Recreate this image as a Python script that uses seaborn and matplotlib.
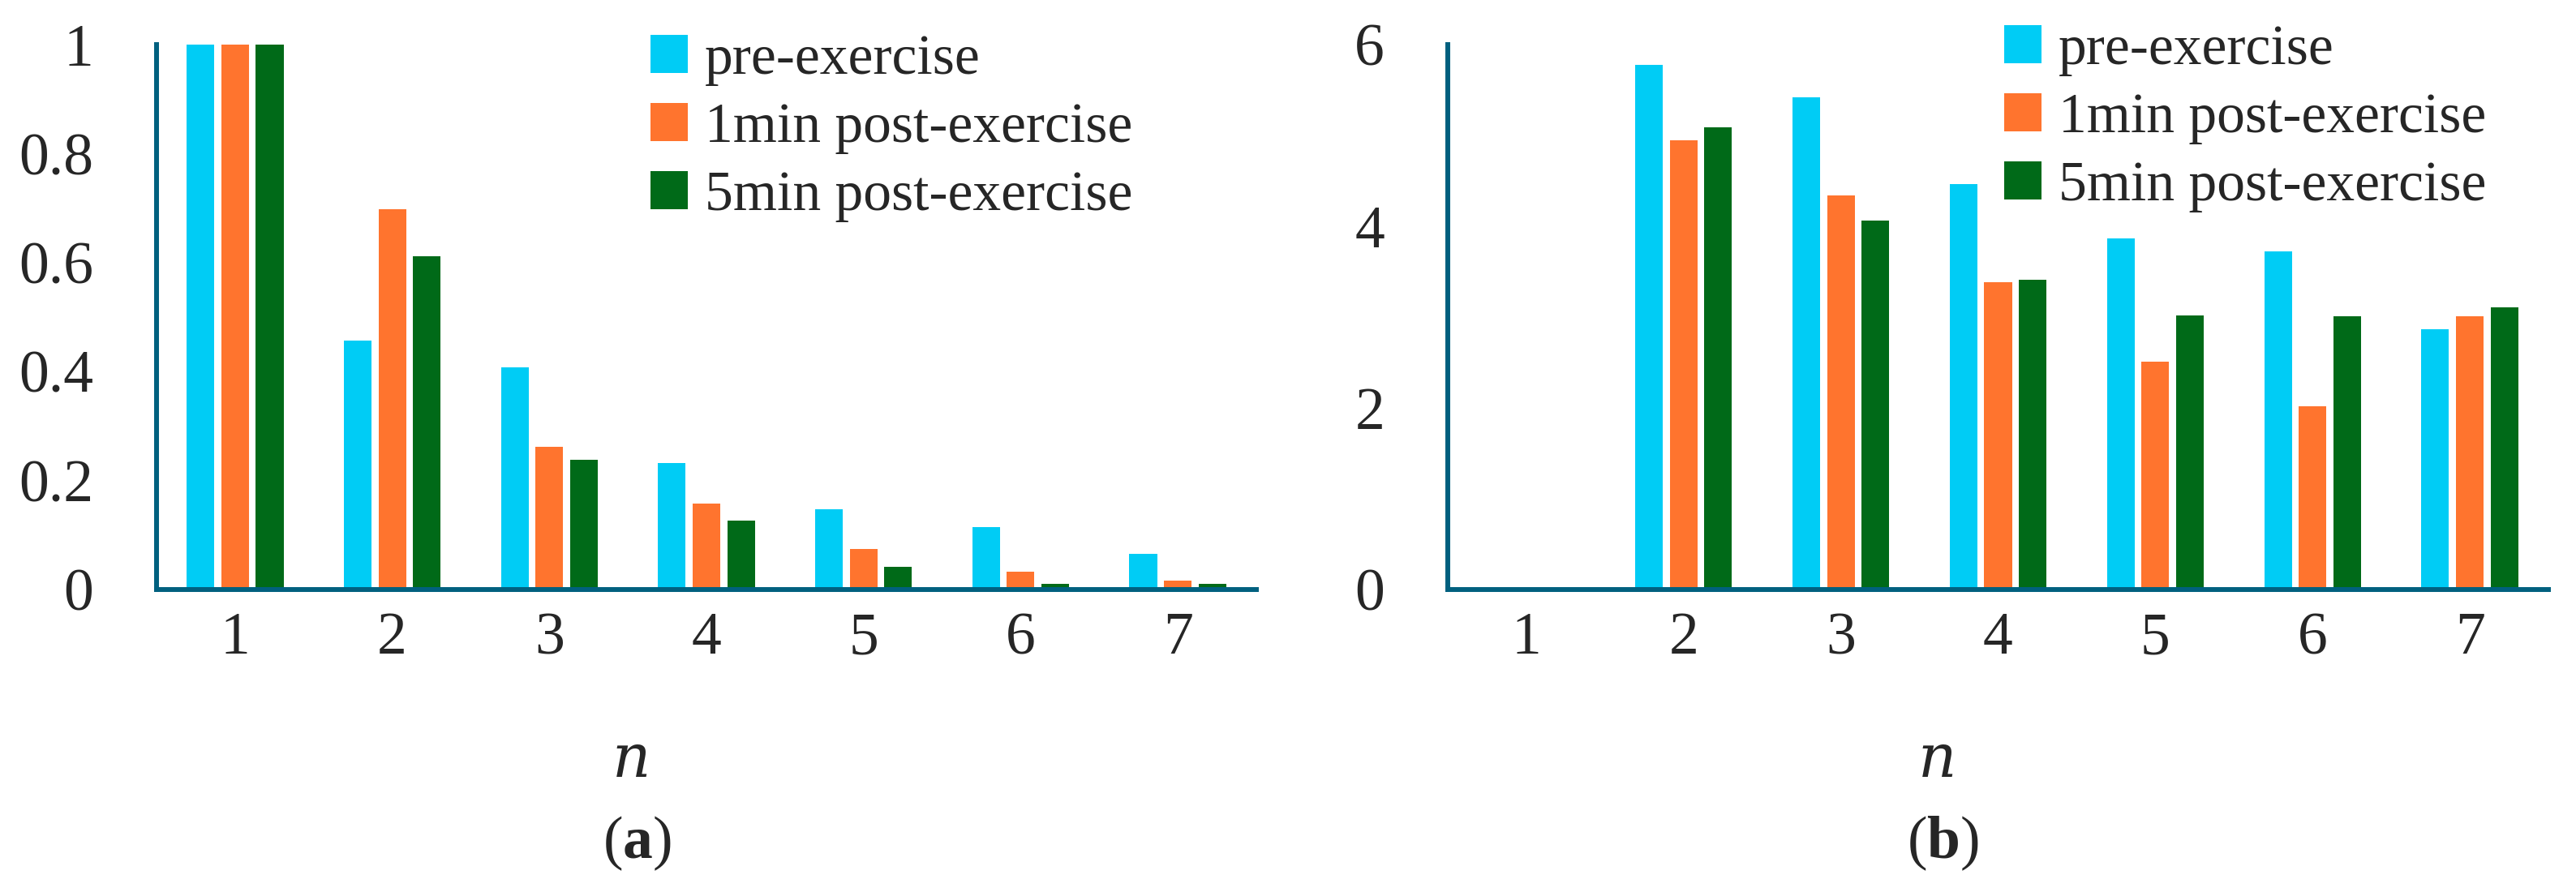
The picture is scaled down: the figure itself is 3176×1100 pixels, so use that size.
import numpy as np
import pandas as pd
import seaborn as sns
import matplotlib.pyplot as plt

# 데이터
n_values = ['1', '2', '3', '4', '5', '6', '7']
series_names = ['pre-exercise', '1min post-exercise', '5min post-exercise']

a_pre = [1.0, 0.457, 0.408, 0.232, 0.147, 0.115, 0.065]
a_1min = [1.0, 0.698, 0.262, 0.157, 0.074, 0.032, 0.017]
a_5min = [1.0, 0.612, 0.238, 0.126, 0.042, 0.010, 0.010]

b_pre = [0.0, 5.78, 5.42, 4.46, 3.87, 3.72, 2.87]
b_1min = [0.0, 4.95, 4.34, 3.38, 2.51, 2.02, 3.01]
b_5min = [0.0, 5.09, 4.06, 3.41, 3.02, 3.01, 3.11]

a_yticks = [0, 0.2, 0.4, 0.6, 0.8, 1]
a_yticklabels = ['0', '0.2', '0.4', '0.6', '0.8', '1']
b_yticks = [0, 2, 4, 6]
b_yticklabels = ['0', '2', '4', '6']

colors = ['#00CCF5', '#FF742E', '#006A18']
axis_color = '#00607F'


def to_long(pre, m1, m5):
    rows = []
    for name, vals in zip(series_names, [pre, m1, m5]):
        for n, v in zip(n_values, vals):
            rows.append({'n': n, 'value': v, 'series': name})
    return pd.DataFrame(rows)


sns.set_style('white')
plt.rcParams['font.family'] = ['Liberation Serif', 'DejaVu Serif']
plt.rcParams['mathtext.fontset'] = 'custom'
plt.rcParams['mathtext.rm'] = 'Liberation Serif'
plt.rcParams['mathtext.it'] = 'Liberation Serif:italic'
plt.rcParams['mathtext.bf'] = 'Liberation Serif:bold'

fig = plt.figure(figsize=(31.76, 11), dpi=100)
ax_a = fig.add_axes([193 / 3176, 1 - 727 / 1100, (1549 - 193) / 3176, 672 / 1100])
ax_b = fig.add_axes([1785 / 3176, 1 - 727 / 1100, (3142 - 1785) / 3176, 672 / 1100])

panels = [
    (ax_a, to_long(a_pre, a_1min, a_5min), (0, 1), a_yticks, a_yticklabels, 802, 42),
    (ax_b, to_long(b_pre, b_1min, b_5min), (0, 6), b_yticks, b_yticklabels, 2471, 30),
]

for ax, df, ylim, yt, ytl, leg_x, leg_y in panels:
    sns.barplot(data=df, x='n', y='value', hue='series', palette=colors,
                width=0.66, gap=0.2, ax=ax, saturation=1, linewidth=0)
    ax.set_xlim(-0.5, 6.5)
    ax.set_ylim(*ylim)
    ax.set_yticks(yt)
    ax.set_yticklabels(ytl)
    ax.set_xlabel('')
    ax.set_ylabel('')
    for s in ['top', 'right']:
        ax.spines[s].set_visible(False)
    for s in ['left', 'bottom']:
        ax.spines[s].set_color(axis_color)
        ax.spines[s].set_linewidth(4.3)
    ax.tick_params(axis='y', direction='out', length=18, width=3.5,
                   color=axis_color, labelsize=53, pad=38)
    ax.tick_params(axis='x', length=0, labelsize=53, pad=20)

    handles, labels = ax.get_legend_handles_labels()
    ax.legend(handles, labels, loc='upper left',
              bbox_to_anchor=(leg_x / 3176, 1 - leg_y / 1100),
              bbox_transform=fig.transFigure, frameon=False, fontsize=50,
              handlelength=0.66, handleheight=0.66, handletextpad=0.3,
              labelspacing=0.3, borderpad=0, borderaxespad=0)

# 축 제목과 패널 라벨
fig.text(779 / 3176, 1 - 937 / 1100, 'n', fontsize=53, style='italic',
         family=['DejaVu Serif'], ha='center', va='center')
fig.text(2389 / 3176, 1 - 937 / 1100, 'n', fontsize=53, style='italic',
         family=['DejaVu Serif'], ha='center', va='center')
fig.text(785 / 3176, 1 - 1040 / 1100, r'($\mathbf{a}$)', fontsize=53, ha='center', va='center')
fig.text(2395 / 3176, 1 - 1040 / 1100, r'($\mathbf{b}$)', fontsize=53, ha='center', va='center')

fig.savefig('out.png', dpi=100, facecolor='white')
